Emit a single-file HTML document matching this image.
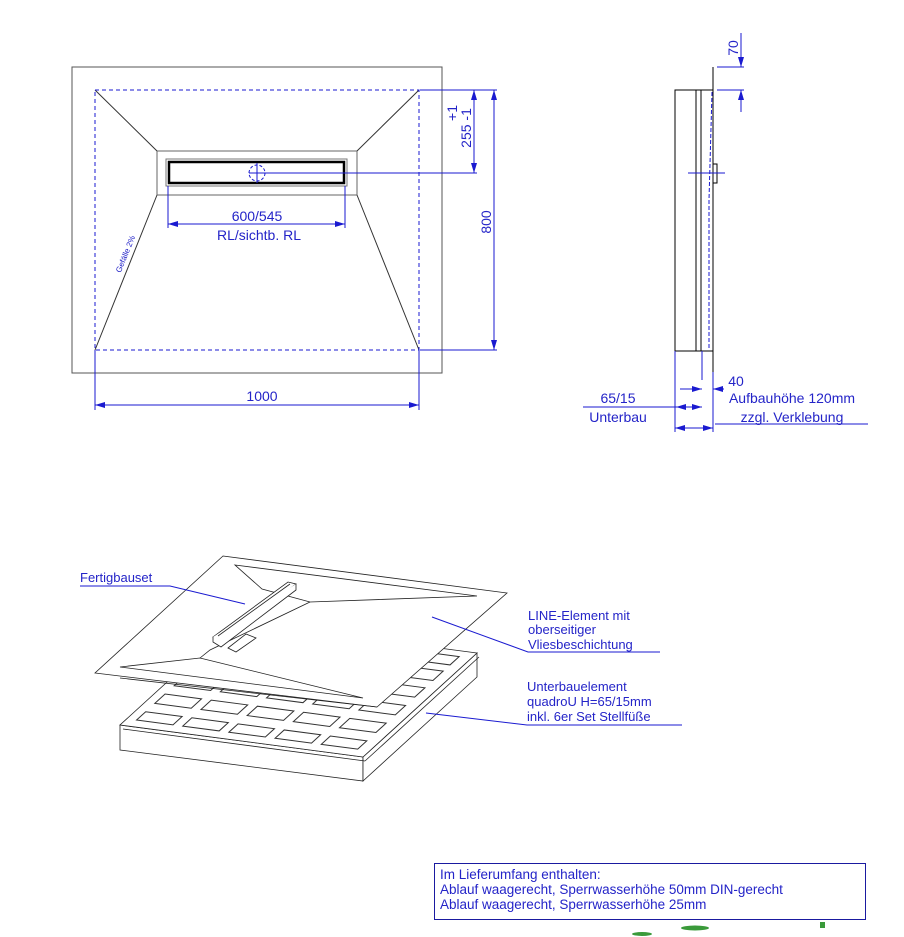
<!DOCTYPE html>
<html><head><meta charset="utf-8"><style>
body{margin:0;background:#fff}
svg{display:block}
text{font-family:"Liberation Sans",sans-serif;fill:#2424c8}
.n{vector-effect:non-scaling-stroke}
</style></head><body>
<svg width="904" height="937" viewBox="0 0 904 937" xmlns="http://www.w3.org/2000/svg">
<defs>
<marker id="a" viewBox="0 0 10 6" refX="10" refY="3" markerWidth="10" markerHeight="6" orient="auto-start-reverse" markerUnits="userSpaceOnUse"><path d="M0,0L10,3L0,6z" fill="#1a1ad0"/></marker>
</defs>
<!-- top view -->
<g fill="none" stroke="#555" stroke-width="1">
<rect x="72" y="67" width="370" height="306"/>
<rect x="157" y="151" width="200" height="44" stroke="#666"/>
<path d="M95,90L157,151M419,90L357,151M157,195L95,350M357,195L419,350" stroke="#333"/>
<rect x="166" y="159" width="181" height="27" stroke="#777"/>
<rect x="169" y="162" width="175" height="21" stroke="#000" stroke-width="2.5"/>
</g>
<rect x="95" y="90" width="324" height="260" fill="none" stroke="#1a1ad0" stroke-dasharray="4,3"/>
<g stroke="#1a1ad0" fill="none" stroke-width="1">
<circle cx="257" cy="173" r="8" stroke-dasharray="3,2"/>
<path d="M257,163V183M249,173H477"/>
<path d="M168,186V228M345,186V228"/>
<path d="M168,224H345" marker-start="url(#a)" marker-end="url(#a)"/>
<path d="M474,90V173" marker-start="url(#a)" marker-end="url(#a)"/>
<path d="M420,90H497M420,350H497"/>
<path d="M494,90V350" marker-start="url(#a)" marker-end="url(#a)"/>
<path d="M95,350V410M419,350V410"/>
<path d="M95,405H419" marker-start="url(#a)" marker-end="url(#a)"/>
</g>
<text x="257" y="221" font-size="14" text-anchor="middle">600/545</text>
<text x="259" y="240" font-size="14" text-anchor="middle">RL/sichtb. RL</text>
<text x="262" y="401" font-size="14" text-anchor="middle">1000</text>
<text transform="translate(491,222) rotate(-90)" font-size="14" text-anchor="middle">800</text>
<text transform="translate(471,128) rotate(-90)" font-size="14" text-anchor="middle">255 -1</text>
<text transform="translate(457,113) rotate(-90)" font-size="14" text-anchor="middle">+1</text>
<text transform="translate(128,255) rotate(-68)" font-size="8" text-anchor="middle" fill="#4a4ae0">Gefälle 2%</text>
<!-- side view -->
<g fill="none" stroke="#000" stroke-width="1">
<rect x="675" y="90" width="38" height="261"/>
<path d="M696,90V351M701,90V351M713,67V372"/>
<rect x="713" y="164" width="4" height="19"/>
</g>
<g stroke="#1a1ad0" fill="none">
<path d="M712,92L709,200V350" stroke-dasharray="4,2"/>
<path d="M688,173H725"/>
<path d="M717,67H744M717,90H744"/>
<path d="M741,33V67" marker-end="url(#a)"/>
<path d="M741,90V112" marker-start="url(#a)"/>
<path d="M675,351V432M702,351V380M713,372V432"/>
<path d="M680,389H702" marker-end="url(#a)"/>
<path d="M713,389H724" marker-start="url(#a)"/>
<path d="M583,407H702"/>
<path d="M676,407H702" marker-start="url(#a)" marker-end="url(#a)"/>
<path d="M715,424H868"/>
<path d="M675,428H713" marker-start="url(#a)" marker-end="url(#a)"/>
</g>
<text transform="translate(738,48) rotate(-90)" font-size="14" text-anchor="middle">70</text>
<text x="736" y="386" font-size="14" text-anchor="middle">40</text>
<text x="618" y="403" font-size="14" text-anchor="middle">65/15</text>
<text x="618" y="422" font-size="14" text-anchor="middle">Unterbau</text>
<text x="792" y="403" font-size="14" text-anchor="middle">Aufbauhöhe 120mm</text>
<text x="792" y="422" font-size="14" text-anchor="middle">zzgl. Verklebung</text>
<!-- isometric base -->
<g fill="#fff" stroke="#222" stroke-width="0.8">
<path d="M120,725L363,757V781L120,750Z"/>
<path d="M363,757L477,653V677L363,781Z"/>
<path d="M120,725L363,757L477,653L234,621Z"/>
<path d="M123,729L365,761M365,761L479,657" fill="none"/>
</g>
<g transform="matrix(243,32,114,-104,120,725)" fill="#fff" stroke="#333">
<g class="n">
<rect class="n" x="0.04" y="0.06" width="0.15" height="0.08"/><rect class="n" x="0.23" y="0.06" width="0.15" height="0.08"/><rect class="n" x="0.42" y="0.06" width="0.15" height="0.08"/><rect class="n" x="0.61" y="0.06" width="0.15" height="0.08"/><rect class="n" x="0.80" y="0.06" width="0.15" height="0.08"/>
<rect class="n" x="0.04" y="0.22" width="0.15" height="0.09"/><rect class="n" x="0.23" y="0.22" width="0.15" height="0.09"/><rect class="n" x="0.42" y="0.22" width="0.15" height="0.09"/><rect class="n" x="0.61" y="0.22" width="0.15" height="0.09"/><rect class="n" x="0.80" y="0.22" width="0.15" height="0.09"/>
<rect class="n" x="0.04" y="0.39" width="0.15" height="0.09"/><rect class="n" x="0.23" y="0.39" width="0.15" height="0.09"/><rect class="n" x="0.42" y="0.39" width="0.15" height="0.09"/><rect class="n" x="0.61" y="0.39" width="0.15" height="0.09"/><rect class="n" x="0.80" y="0.39" width="0.15" height="0.09"/>
<rect class="n" x="0.04" y="0.56" width="0.15" height="0.09"/><rect class="n" x="0.23" y="0.56" width="0.15" height="0.09"/><rect class="n" x="0.42" y="0.56" width="0.15" height="0.09"/><rect class="n" x="0.61" y="0.56" width="0.15" height="0.09"/><rect class="n" x="0.80" y="0.56" width="0.15" height="0.09"/>
<rect class="n" x="0.80" y="0.72" width="0.15" height="0.09"/><rect class="n" x="0.80" y="0.87" width="0.15" height="0.08"/>
</g>
</g>
<!-- sheet -->
<g fill="#fff" stroke="#222" stroke-width="0.8">
<path d="M223,556L507,593L377,707L95,673Z"/>
<path d="M120,678L377,707" fill="none"/>
<path d="M235,565L477,596L310,602L262,589Z" fill="none"/>
<path d="M120,667L200,658L363,698Z" fill="none"/>
<path d="M200,658L210,650L310,602" fill="none"/>
<path d="M213,637L288,582L296,584L221,642Z"/>
<path d="M213,637V642L221,647L296,590V584" />
<path d="M218,636L290,584" fill="none"/>
<path d="M228,648L246,634L256,638L236,652Z" fill="none"/>
</g>
<g stroke="#1a1ad0" fill="none">
<path d="M80,586H170L245,604"/>
<path d="M432,617L528,652H660"/>
<path d="M426,713L527,725H682"/>
</g>
<text x="80" y="582" font-size="13">Fertigbauset</text>
<text x="528" y="620" font-size="13">LINE-Element mit</text>
<text x="528" y="634" font-size="13">oberseitiger</text>
<text x="528" y="649" font-size="13">Vliesbeschichtung</text>
<text x="527" y="691" font-size="13">Unterbauelement</text>
<text x="527" y="706" font-size="13">quadroU H=65/15mm</text>
<text x="527" y="721" font-size="13">inkl. 6er Set Stellfüße</text>
<!-- box -->
<rect x="434.5" y="863.5" width="431" height="56" fill="none" stroke="#1a1aa0"/>
<text x="440" y="879" font-size="13.5">Im Lieferumfang enthalten:</text>
<text x="440" y="894" font-size="13.5">Ablauf waagerecht, Sperrwasserhöhe 50mm DIN-gerecht</text>
<text x="440" y="909" font-size="13.5">Ablauf waagerecht, Sperrwasserhöhe 25mm</text>
<g fill="#3a9a3a"><ellipse cx="642" cy="934" rx="10" ry="2"/><ellipse cx="695" cy="928" rx="14" ry="2.5"/><rect x="820" y="922" width="5" height="6"/></g>
</svg>
</body></html>
